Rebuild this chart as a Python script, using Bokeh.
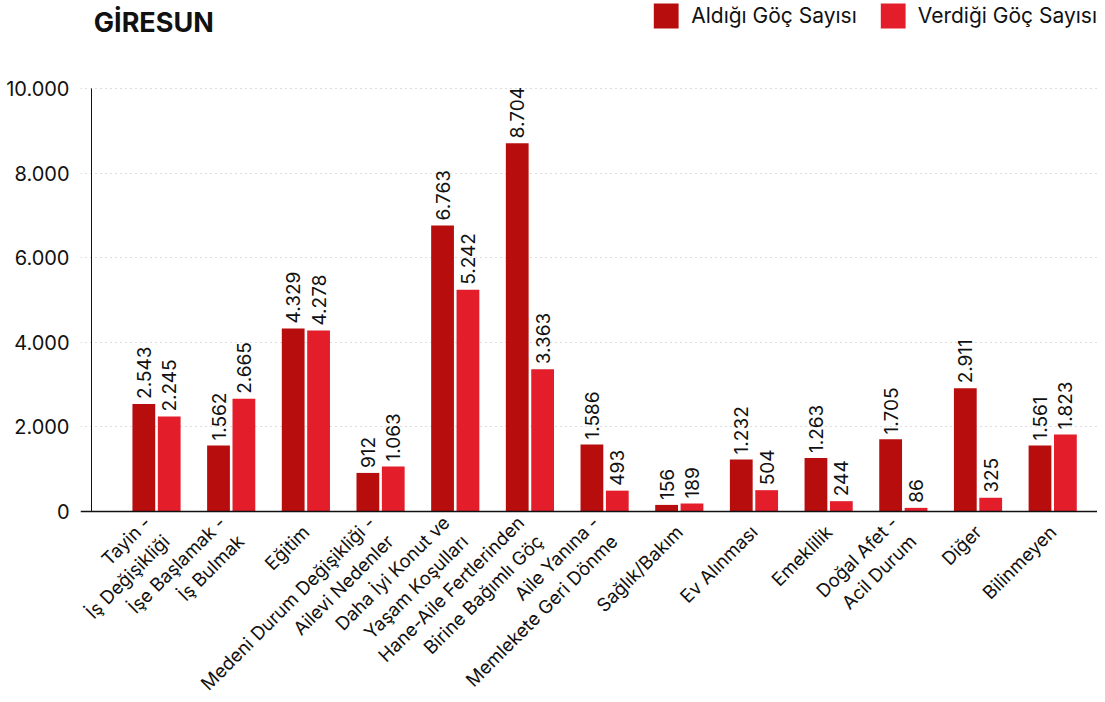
import math
from bokeh.plotting import figure
from bokeh.models import (ColumnDataSource, Range1d, FixedTicker, LabelSet, Label,
                          Legend, LegendItem, CustomJSTickFormatter, LinearAxis)
from bokeh.core.properties import value
from bokeh.embed import file_html
from bokeh.resources import INLINE

categories = [
    "Tayin -\nİş Değişikliği",
    "İşe Başlamak -\nİş Bulmak",
    "Eğitim",
    "Medeni Durum Değişikliği -\nAilevi Nedenler",
    "Daha İyi Konut ve\nYaşam Koşulları",
    "Hane-Aile Fertlerinden\nBirine Bağımlı Göç",
    "Aile Yanına -\nMemlekete Geri Dönme",
    "Sağlık/Bakım",
    "Ev Alınması",
    "Emeklilik",
    "Doğal Afet -\nAcil Durum",
    "Diğer",
    "Bilinmeyen",
]
aldigi = [2543, 1562, 4329, 912, 6763, 8704, 1586, 156, 1232, 1263, 1705, 2911, 1561]
verdigi = [2245, 2665, 4278, 1063, 5242, 3363, 493, 189, 504, 244, 86, 325, 1823]
series_names = ["Aldığı Göç Sayısı", "Verdiği Göç Sayısı"]
y_ticks = [0, 2000, 4000, 6000, 8000, 10000]
title_text = "GİRESUN"

FONT = "Inter"
DARK = "#B80D0D"
RED = "#E31E2A"
INK = "#111111"

def fmt(v):
    return f"{v:,}".replace(",", ".")

n = len(categories)
xs = list(range(n))
off = 0.17
X0 = -0.87  # where the vertical axis line sits
src_a = ColumnDataSource(dict(x=[i - off for i in xs], y=aldigi, t=[fmt(v) for v in aldigi]))
src_v = ColumnDataSource(dict(x=[i + off for i in xs], y=verdigi, t=[fmt(v) for v in verdigi]))

p = figure(width=1097, height=700, output_backend="svg", toolbar_location=None,
           x_range=Range1d(-1.018, 12.6), y_range=Range1d(-4468, 12080),
           min_border_left=80, min_border_right=0, min_border_top=0, min_border_bottom=0)
p.outline_line_color = None
p.background_fill_color = "white"

ra = p.vbar(x="x", top="y", width=0.305, source=src_a, color=DARK, line_color=None)
rv = p.vbar(x="x", top="y", width=0.305, source=src_v, color=RED, line_color=None)

for src in (src_a, src_v):
    ls = LabelSet(x="x", y="y", text="t", source=src, angle=math.pi / 2, angle_units="rad",
                  text_align="left", text_baseline="middle", y_offset=5,
                  text_font=value(FONT), text_font_size=value("19px"), text_color=INK)
    p.add_layout(ls)

# category axis drawn at y = 0
p.xaxis.fixed_location = 0
p.xaxis.ticker = FixedTicker(ticks=xs)
p.xaxis.major_label_overrides = {i: c for i, c in enumerate(categories)}
p.xaxis.major_label_orientation = math.pi / 4
p.xaxis.major_label_text_font = FONT
p.xaxis.major_label_text_font_size = "18.5px"
p.xaxis.major_label_text_color = INK
p.xaxis.major_label_text_align = "center"
p.xaxis.major_tick_line_color = None
p.xaxis.minor_tick_line_color = None
p.xaxis.axis_line_color = INK
p.xaxis.axis_line_width = 1.5
p.xaxis.major_label_standoff = 11

# value axis labels (left panel) ...
p.yaxis.ticker = FixedTicker(ticks=y_ticks)
p.yaxis.formatter = CustomJSTickFormatter(code="return tick.toString().replace(/\\B(?=(\\d{3})+(?!\\d))/g, '.');")
p.yaxis.major_label_text_font = FONT
p.yaxis.major_label_text_font_size = "20px"
p.yaxis.major_label_text_color = INK
p.yaxis.major_tick_line_color = None
p.yaxis.minor_tick_line_color = None
p.yaxis.axis_line_color = None
p.yaxis.major_label_standoff = 5

# ... and its line, at the left end of the bars area (no ticks, no labels)
yline = LinearAxis(fixed_location=X0, ticker=FixedTicker(ticks=[]), bounds=(0, 10000),
                   major_tick_line_color=None, minor_tick_line_color=None,
                   axis_line_color=INK)
p.add_layout(yline, "left")

p.xgrid.grid_line_color = None
p.ygrid.ticker = FixedTicker(ticks=y_ticks[1:])
p.ygrid.grid_line_color = "#BBBBBB"
p.ygrid.grid_line_dash = "1 4"

# title
p.add_layout(Label(x=X0 + 0.03, y=11940, text=title_text, text_font=FONT, text_font_size="27px",
                   text_font_style="bold", text_color=INK, text_baseline="top"))

legend = Legend(items=[LegendItem(label=series_names[0], renderers=[ra]),
                       LegendItem(label=series_names[1], renderers=[rv])],
                orientation="horizontal", location="top_right",
                glyph_width=31, glyph_height=31, label_text_font=FONT,
                label_text_font_size="21px", label_text_color=INK,
                label_standoff=10, spacing=20, padding=5, margin=0,
                border_line_color=None, background_fill_alpha=0)
p.add_layout(legend, "center")

open("out.html", "w").write(file_html(p, INLINE))
